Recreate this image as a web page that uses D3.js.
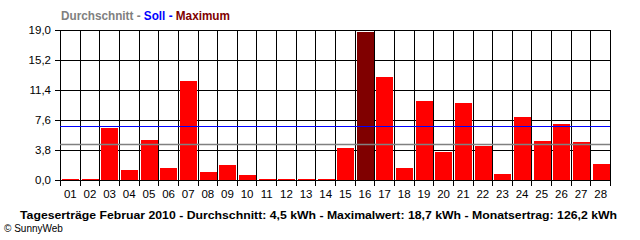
<!DOCTYPE html>
<html><head><meta charset="utf-8">
<script src="https://cdn.jsdelivr.net/npm/d3@7"></script>
<style>body{margin:0;background:#fff}svg{display:block}</style>
</head><body>
<script>
const days = ["01","02","03","04","05","06","07","08","09","10","11","12","13","14","15","16","17","18","19","20","21","22","23","24","25","26","27","28"];
const values = [0.15,0.15,6.6,1.3,5.1,1.5,12.5,1.0,1.9,0.6,0.15,0.15,0.15,0.1,4.0,18.7,13.0,1.5,10.0,3.5,9.7,4.3,0.8,8.0,5.0,7.1,4.8,2.0];
const yTicks = [0, 3.8, 7.6, 11.4, 15.2, 19.0];
const averageValue = 4.5;
const targetValue = 6.9;
const legend = [["Durchschnitt - ", "#808080"], ["Soll - ", "#0000ff"], ["Maximum", "#800000"]];
const footer = "Tageserträge Februar 2010 - Durchschnitt: 4,5 kWh - Maximalwert: 18,7 kWh - Monatsertrag: 126,2 kWh";

const W = 640, H = 240;
const svg = d3.select("body").append("svg").attr("width", W).attr("height", H)
  .style("font-family", "'Liberation Sans', Arial, sans-serif");

const x = d3.scaleBand().domain(days).range([60, 610]).paddingInner(0.12).paddingOuter(0.06);
const y = d3.scaleLinear().domain([0, 19]).range([180, 30]);
const step = x.step();
const maxV = d3.max(values);
const px = v => Math.round(v) + 0.5;

// horizontal grid
svg.append("g").selectAll("line").data(yTicks).join("line")
  .attr("x1", 55).attr("x2", 610)
  .attr("y1", d => px(y(d))).attr("y2", d => px(y(d)))
  .attr("stroke", "#000");
// vertical grid
const bounds = d3.range(days.length + 1).map(i => 60 + i * step);
svg.append("g").selectAll("line").data(bounds).join("line")
  .attr("x1", d => px(d)).attr("x2", d => px(d))
  .attr("y1", 30).attr("y2", 186)
  .attr("stroke", "#000");

// bars
svg.append("g").selectAll("rect").data(values).join("rect")
  .attr("x", (d, i) => Math.round(x(days[i])) + 1)
  .attr("width", Math.round(x.bandwidth()))
  .attr("y", d => Math.round(y(d)))
  .attr("height", d => 180 - Math.round(y(d)))
  .attr("fill", d => d === maxV ? "#800000" : "#ff0000");

// average & target lines
svg.append("g").selectAll("line").data([[averageValue, "#808080", 1.3], [targetValue, "#0000ff", 1]]).join("line")
  .attr("x1", 60).attr("x2", 610)
  .attr("y1", d => px(y(d[0]))).attr("y2", d => px(y(d[0])))
  .attr("stroke", d => d[1]).attr("stroke-width", d => d[2]);

// y labels
svg.append("g").selectAll("text").data(yTicks).join("text")
  .attr("x", 51).attr("y", d => y(d) + 4)
  .attr("text-anchor", "end").attr("font-size", 11.5)
  .text(d => d.toFixed(1).replace(".", ","));

// x labels
svg.append("g").selectAll("text").data(days).join("text")
  .attr("x", d => x(d) + x.bandwidth() / 2 + 0.5).attr("y", 198)
  .attr("text-anchor", "middle").attr("font-size", 11.5)
  .text(d => d);

// legend title
const t = svg.append("text").attr("x", 61).attr("y", 20).attr("font-size", 12).attr("font-weight", "bold")
  .attr("textLength", 169).attr("lengthAdjust", "spacingAndGlyphs");
t.selectAll("tspan").data(legend).join("tspan").attr("fill", d => d[1]).text(d => d[0]);

// footer
svg.append("text").attr("x", 20).attr("y", 219).attr("font-size", 11.5).attr("font-weight", "bold")
  .attr("textLength", 597).attr("lengthAdjust", "spacingAndGlyphs").text(footer);
svg.append("text").attr("x", 4).attr("y", 232).attr("font-size", 10).text("© SunnyWeb");
</script>
</body></html>
